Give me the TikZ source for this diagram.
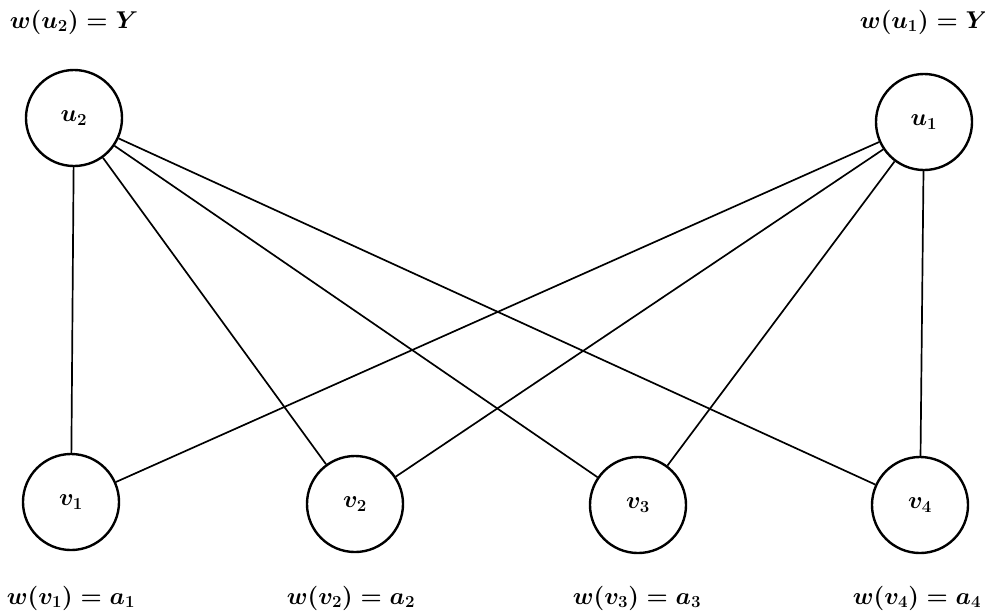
\documentclass[tikz,border=0pt]{standalone}
\usepackage{amsmath}
\usetikzlibrary{positioning}

\begin{document}
\begin{tikzpicture}[
    x=0.025cm, y=-0.025cm,
    vertex/.style={circle, draw=black, line width=1.7pt, minimum size=2.4cm, inner sep=0pt, font=\LARGE\boldmath},
    edge/.style={line width=1.2pt},
    weight/.style={font=\LARGE\boldmath, inner sep=0pt}
]
\useasboundingbox (0,0) rectangle (985,614);

% Vertices
\node[vertex] (u2) at (74,118) {$u_2$};
\node[vertex] (u1) at (924,122) {$u_1$};
\node[vertex] (v1) at (71,502) {$v_1$};
\node[vertex] (v2) at (355,504) {$v_2$};
\node[vertex] (v3) at (638,505) {$v_3$};
\node[vertex] (v4) at (920,505) {$v_4$};

% Weights
\node[weight] (wu2) at (74,22) {$w(u_2)=Y$};
\node[weight] (wu1) at (924,22) {$w(u_1)=Y$};
\node[weight] (wv1) at (71,598) {$w(v_1)=a_1$};
\node[weight] (wv2) at (351,598) {$w(v_2)=a_2$};
\node[weight] (wv3) at (637,598) {$w(v_3)=a_3$};
\node[weight] (wv4) at (917,598) {$w(v_4)=a_4$};

% Edges
\draw[edge] (u2) -- (v1);
\draw[edge] (u2) -- (v2);
\draw[edge] (u2) -- (v3);
\draw[edge] (u2) -- (v4);
\draw[edge] (u1) -- (v1);
\draw[edge] (u1) -- (v2);
\draw[edge] (u1) -- (v3);
\draw[edge] (u1) -- (v4);

\end{tikzpicture}
\end{document}
